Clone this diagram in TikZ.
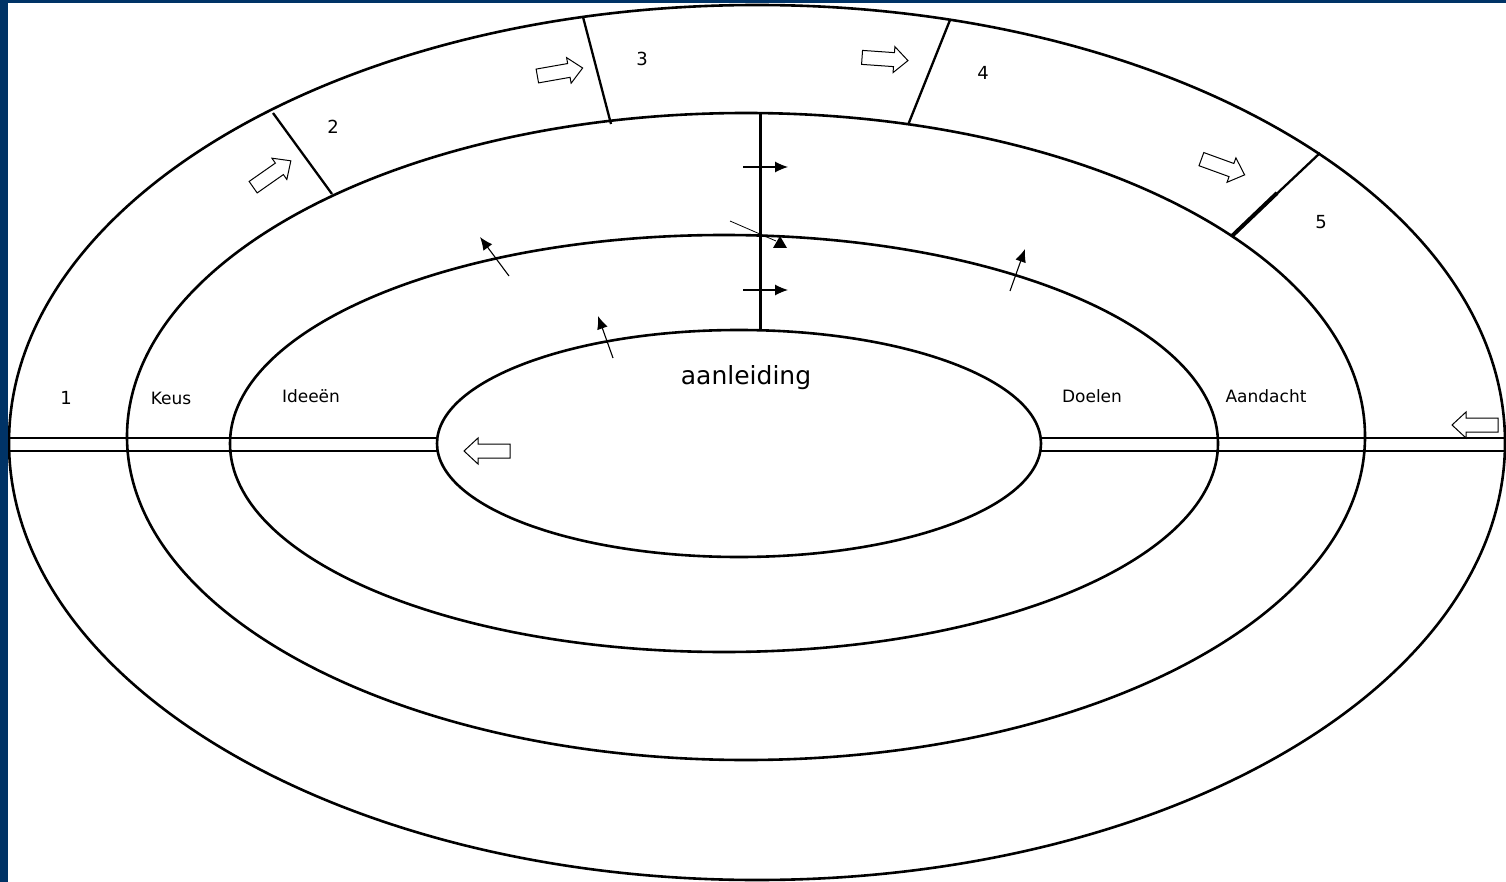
\documentclass[tikz,border=0pt]{standalone}
\usepackage{fontspec}
\setmainfont{DejaVu Sans}
\usetikzlibrary{arrows.meta,shapes.geometric}
\definecolor{navy}{RGB}{0,51,102}
\begin{document}
\begin{tikzpicture}[x=1pt,y=-1pt,
  ring/.style={draw,ellipse,inner sep=0pt,outer sep=0pt,line width=2.6pt},
  edge/.style={line width=2.6pt},
  divider/.style={line width=2.3pt},
  lbl/.style={font=\fontsize{17}{20}\selectfont},
  num/.style={font=\fontsize{18}{21}\selectfont},
  thinarrow/.style={line width=1.1pt,-{Latex[length=13pt,width=11pt]}},
  blockarrow/.pic={\draw[line width=1pt,fill=white] (-23,-7) -- (9,-7) -- (9,-13) -- (23,0) -- (9,13) -- (9,7) -- (-23,7) -- cycle;}
]
% background frame
\fill[navy] (0,0) rectangle (1506,882);
\fill[white] (8,3) rectangle (1506,882);
\useasboundingbox (0,0) rectangle (1506,882);
\clip (8,3) rectangle (1506,882);

% rings
\node[ring,minimum width=1496pt,minimum height=875pt] (outer) at (757,442.5) {};
\node[ring,minimum width=1238pt,minimum height=647pt] (ring2) at (746,436.5) {};
\node[ring,minimum width=988pt,minimum height=417pt] (ring3) at (724,443.5) {};
\node[ring,minimum width=604pt,minimum height=227pt] (core) at (739,443.5) {};

% double horizontal lines
\coordinate (lu) at (0,438);
\coordinate (ll) at (0,451);
\coordinate (redge) at (1506,0);
\draw[edge] (outer.west |- lu) -- (core.west |- lu);
\draw[edge] (outer.west |- ll) -- (core.west |- ll);
\draw[edge] (core.east |- lu) -- (redge |- lu);
\draw[edge] (core.east |- ll) -- (redge |- ll);

% vertical line
\coordinate (vt) at (760,113);
\coordinate (vb) at (760,330);
\draw[line width=3pt] (vt) -- (vb);

% dividers in outer ring
\coordinate (d1a) at (273,113); \coordinate (d1b) at (332,194);
\coordinate (d2a) at (583,17);  \coordinate (d2b) at (611,124);
\coordinate (d3a) at (950,20);  \coordinate (d3b) at (908,125);
\coordinate (d4a) at (1320,153); \coordinate (d4b) at (1232,236);
\coordinate (d4m) at (1277,193);
\draw[divider] (d1a) -- (d1b);
\draw[divider] (d2a) -- (d2b);
\draw[divider] (d3a) -- (d3b);
\draw[divider] (d4a) -- (d4b);
\draw[line width=4pt] (d4m) -- (d4b);

% labels
\node[num] (n1) at (66,398) {1};
\node[num] (n2) at (333,127) {2};
\node[num] (n3) at (642,59) {3};
\node[num] (n4) at (983,73) {4};
\node[num] (n5) at (1321,222) {5};
\node[lbl] (keus) at (171,398) {Keus};
\node[lbl] (ideeen) at (311,396) {Ideeën};
\node[lbl] (doelen) at (1092,396) {Doelen};
\node[lbl] (aandacht) at (1266,396) {Aandacht};
\node[font=\fontsize{25}{30}\selectfont] (aanleiding) at (746,378) {aanleiding};

% block arrows
\pic[rotate=35] at (272,174) {blockarrow};
\pic[rotate=10] at (560,72) {blockarrow};
\pic[rotate=-4] at (885,59) {blockarrow};
\pic[rotate=-20] at (1223,167) {blockarrow};
\pic[rotate=180] at (1475,425) {blockarrow};
\pic[rotate=180] at (487,451) {blockarrow};

% small arrows
\coordinate (h1s) at (743,167); \coordinate (h1e) at (788,167);
\coordinate (h2s) at (743,290); \coordinate (h2e) at (788,290);
\draw[thinarrow] (h1s) -- (h1e);
\draw[thinarrow] (h2s) -- (h2e);
\coordinate (g1s) at (730,221); \coordinate (g1e) at (776,241);
\draw[line width=0.8pt] (g1s) -- (g1e);
\fill (780,236) -- (787,248) -- (773,248) -- cycle;
\coordinate (a1s) at (509,276); \coordinate (a1e) at (480,237);
\coordinate (a2s) at (613,358); \coordinate (a2e) at (598,316);
\coordinate (a3s) at (1010,291); \coordinate (a3e) at (1025,249);
\draw[thinarrow] (a1s) -- (a1e);
\draw[thinarrow] (a2s) -- (a2e);
\draw[thinarrow] (a3s) -- (a3e);
\end{tikzpicture}
\end{document}
